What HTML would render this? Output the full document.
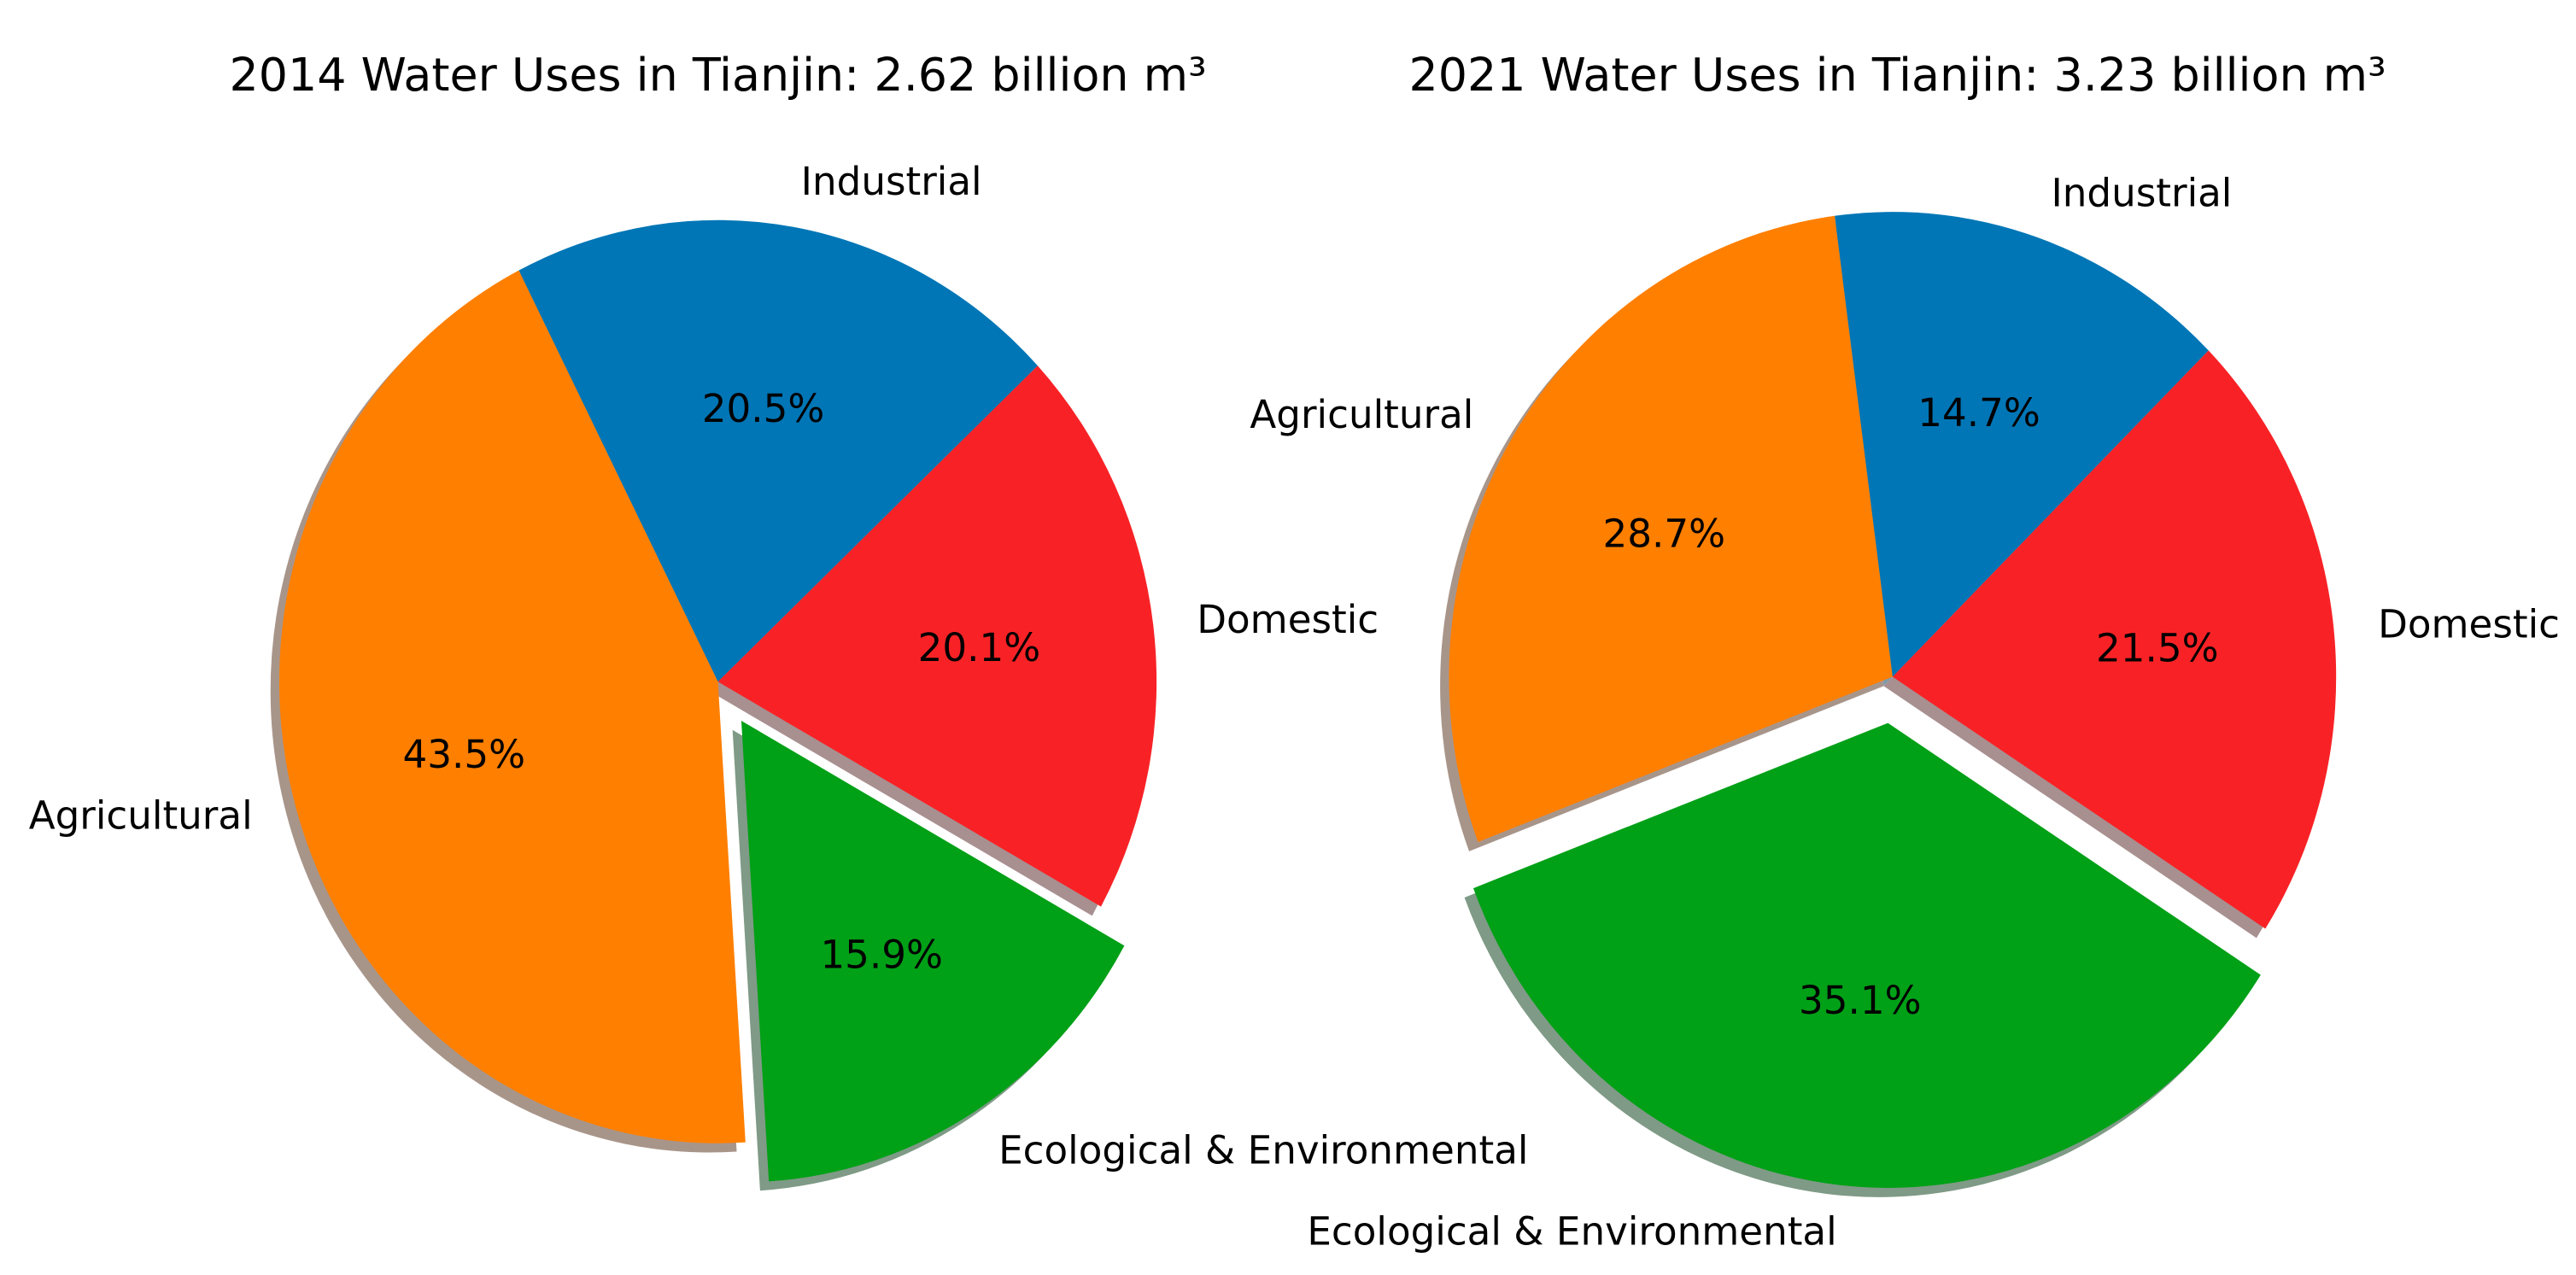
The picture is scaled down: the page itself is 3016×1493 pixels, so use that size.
<!DOCTYPE html>
<html><head><meta charset="utf-8">
<style>
html,body{margin:0;padding:0;background:#fff;}
svg{display:block;font-family:"DejaVu Sans","Liberation Sans",sans-serif;}
</style></head>
<body>
<svg id="chart" width="3016" height="1493" viewBox="0 0 1568 776.2" xmlns="http://www.w3.org/2000/svg">
<text x="437" y="55" font-size="28" text-anchor="middle" fill="#000">2014 Water Uses in Tianjin: 2.62 billion m³</text>
<text x="1155" y="55" font-size="28" text-anchor="middle" fill="#000">2021 Water Uses in Tianjin: 3.23 billion m³</text>
<g id="pies"></g>
</svg>
<script>
const categories = ["Industrial", "Domestic", "Ecological & Environmental", "Agricultural"];
const values2014 = [20.5, 20.1, 15.9, 43.5];
const values2021 = [14.7, 21.5, 35.1, 28.7];
const explode = [0, 0, 0.1, 0];
const colors = ["#0076b6", "#f82226", "#00a017", "#ff7f00"];
const shadowColors = ["#7f9aa8", "#a88f90", "#7f9a86", "#a8958a"];

const NS = "http://www.w3.org/2000/svg";
const root = document.getElementById("pies");

function drawPie(values, cx, cy, rx, ry, startDeg, key) {
  const total = values.reduce((a, b) => a + b, 0);
  const g = document.createElementNS(NS, "g");
  
  
  root.appendChild(g);
  const wedges = [];
  let a = startDeg;
  values.forEach((v, i) => {
    const sweep = v / total * 360;
    const a1 = a, a2 = a - sweep;
    const mid = (a1 + a2) / 2 * Math.PI / 180;
    const ox = cx + explode[i] * rx * Math.cos(mid);
    const oy = cy - explode[i] * ry * Math.sin(mid);
    wedges.push({i, v, a1, a2, mid, ox, oy, sweep});
    a = a2;
  });
  function path(w, dx, dy) {
    const r1 = w.a1 * Math.PI / 180, r2 = w.a2 * Math.PI / 180;
    const x0 = w.ox + dx, y0 = w.oy + dy;
    const x1 = x0 + rx * Math.cos(r1), y1 = y0 - ry * Math.sin(r1);
    const x2 = x0 + rx * Math.cos(r2), y2 = y0 - ry * Math.sin(r2);
    const large = w.sweep > 180 ? 1 : 0;
    return `M${x0},${y0} L${x1},${y1} A${rx},${ry} 0 ${large} 1 ${x2},${y2} Z`;
  }
  wedges.forEach(w => {
    const s = document.createElementNS(NS, "path");
    
    
    s.setAttribute("d", path(w, -0.02 * rx, 0.02 * ry));
    s.setAttribute("fill", shadowColors[w.i]);
    g.appendChild(s);
  });
  wedges.forEach(w => {
    const p = document.createElementNS(NS, "path");
    
    
    p.setAttribute("d", path(w, 0, 0));
    p.setAttribute("fill", colors[w.i]);
    g.appendChild(p);
  });
  wedges.forEach(w => {
    const c = Math.cos(w.mid), s = Math.sin(w.mid);
    const lt = document.createElementNS(NS, "text");
    
    
    lt.setAttribute("x", w.ox + 1.1 * rx * c);
    lt.setAttribute("y", w.oy - 1.1 * ry * s + 8);
    lt.setAttribute("font-size", "23.5");
    lt.setAttribute("text-anchor", c > 0 ? "start" : "end");
    lt.textContent = categories[w.i];
    g.appendChild(lt);
    const pt = document.createElementNS(NS, "text");
    
    
    pt.setAttribute("x", w.ox + 0.6 * rx * c);
    pt.setAttribute("y", w.oy - 0.6 * ry * s + 8);
    pt.setAttribute("font-size", "23.5");
    pt.setAttribute("text-anchor", "middle");
    pt.textContent = w.v.toFixed(1) + "%";
    g.appendChild(pt);
  });
}
drawPie(values2014, 437, 415, 267, 281, 117, "2014");
drawPie(values2021, 1152, 412, 270, 283, 97.5, "2021");
</script>
</body></html>
